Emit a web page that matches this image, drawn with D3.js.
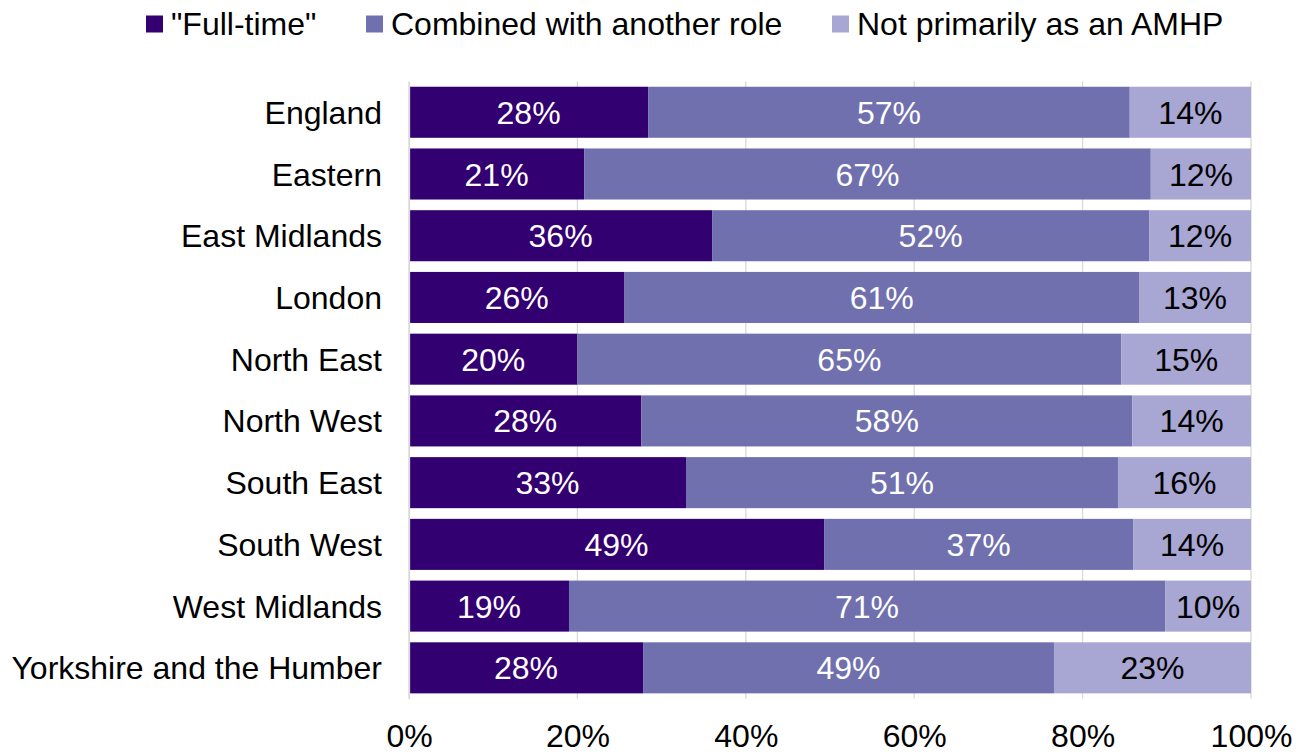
<!DOCTYPE html>
<html>
<head>
<meta charset="utf-8">
<script src="https://cdn.jsdelivr.net/npm/d3@7"></script>
<style>
  html, body { margin: 0; padding: 0; background: #fff; }
  svg { display: block; font-family: "Liberation Sans", Arial, sans-serif; }
</style>
</head>
<body>
<svg id="chart" width="1307" height="754"></svg>
<script>
// Regions, top to bottom
const regions = [
  "England", "Eastern", "East Midlands", "London", "North East",
  "North West", "South East", "South West", "West Midlands",
  "Yorkshire and the Humber"
];

// Share of AMHPs by working pattern (percent)
const fullTime = [28.4, 20.8, 36.0, 25.6, 20.0, 27.6, 32.9, 49.3, 19.0, 27.8];
const combined = [57.2, 67.3, 51.9, 61.1, 64.6, 58.3, 51.3, 36.7, 70.8, 48.8];
const notPrimarily = [14.4, 11.9, 12.1, 13.3, 15.4, 14.1, 15.8, 14.0, 10.2, 23.4];

const seriesNames = ['"Full-time"', "Combined with another role", "Not primarily as an AMHP"];
const seriesColors = ["#330072", "#7070AF", "#A8A6D2"];
const labelColors = ["#ffffff", "#ffffff", "#000000"];

const xTicks = [0, 20, 40, 60, 80, 100];

const svg = d3.select("#chart");
const margin = { left: 409, right: 56, top: 81.4, bottom: 55.3 };
const W = 1307, H = 754;
const fontSize = 32;

const rows = regions.map((r, i) => ({
  region: r,
  full: fullTime[i],
  comb: combined[i],
  notp: notPrimarily[i]
}));
const keys = ["full", "comb", "notp"];

const x = d3.scaleLinear().domain([0, 100]).range([margin.left, W - margin.right]);
const y = d3.scaleBand().domain(regions)
  .range([margin.top, H - margin.bottom])
  .paddingInner(0.173).paddingOuter(0.0865);

// Gridlines
svg.append("g")
  .selectAll("line")
  .data(xTicks)
  .join("line")
  .attr("x1", d => x(d)).attr("x2", d => x(d))
  .attr("y1", margin.top).attr("y2", H - margin.bottom)
  .attr("stroke", "#d9d9d9").attr("stroke-width", 1.3);

// Stacked bars
const stack = d3.stack().keys(keys);
const layers = stack(rows);

const g = svg.append("g");
layers.forEach((layer, li) => {
  g.append("g")
    .selectAll("rect")
    .data(layer)
    .join("rect")
    .attr("x", d => x(d[0]))
    .attr("width", d => x(d[1]) - x(d[0]))
    .attr("y", d => y(d.data.region))
    .attr("height", y.bandwidth())
    .attr("fill", seriesColors[li]);

  g.append("g")
    .selectAll("text")
    .data(layer)
    .join("text")
    .attr("x", d => (x(d[0]) + x(d[1])) / 2)
    .attr("y", d => y(d.data.region) + y.bandwidth() / 2)
    .attr("dy", "0.36em")
    .attr("text-anchor", "middle")
    .attr("font-size", fontSize)
    .attr("fill", labelColors[li])
    .text(d => d3.format(".0%")((d[1] - d[0]) / 100));
});

// Category axis
const yAxis = svg.append("g")
  .attr("transform", `translate(${margin.left},0)`)
  .call(d3.axisLeft(y).tickSize(0).tickPadding(27));
yAxis.select(".domain").attr("stroke", "#d9d9d9").attr("stroke-width", 1.3);
yAxis.selectAll("text")
  .attr("font-size", fontSize)
  .attr("font-family", "Liberation Sans, Arial, sans-serif")
  .attr("fill", "#000")
  .attr("dy", "0.36em");

// Value axis
const xAxis = svg.append("g")
  .attr("transform", `translate(0,${H - margin.bottom})`)
  .call(d3.axisBottom(x).tickValues(xTicks).tickSize(0).tickPadding(26)
    .tickFormat(d => d + "%"));
xAxis.select(".domain").remove();
xAxis.selectAll("text")
  .attr("font-size", fontSize)
  .attr("font-family", "Liberation Sans, Arial, sans-serif")
  .attr("fill", "#000");

// Legend
const legendX = [146, 366, 832];
const legend = svg.append("g");
seriesNames.forEach((name, i) => {
  legend.append("rect")
    .attr("x", legendX[i]).attr("y", 15.5)
    .attr("width", 17).attr("height", 17)
    .attr("fill", seriesColors[i]);
  legend.append("text")
    .attr("x", legendX[i] + 25).attr("y", 23)
    .attr("dy", "0.36em")
    .attr("font-size", fontSize)
    .attr("fill", "#000")
    .text(name);
});
</script>
</body>
</html>
